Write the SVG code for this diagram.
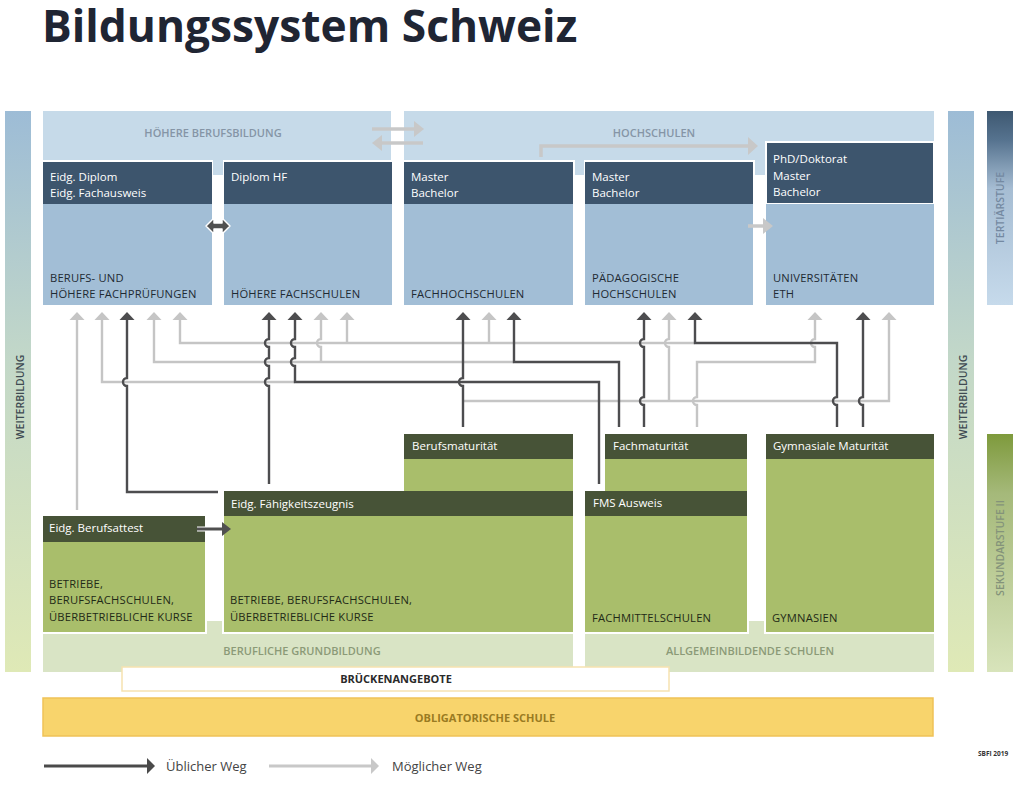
<svg xmlns="http://www.w3.org/2000/svg" width="1024" height="785" viewBox="0 0 1024 785">
<defs>
<style>
text{font-family:"Open Sans","Noto Sans","DejaVu Sans",sans-serif}
.title{font-size:44.3px;font-weight:700;fill:#1f2533}
.th{fill:#3d556d}.tb{fill:#a2bed6}.band{fill:#c6dae9}
.gh{fill:#475337}.gb{fill:#a9be6b}.gband{fill:#d9e4c5}
.ht{font-size:11.5px;fill:#ffffff}
.bt{font-size:11.2px;fill:#1e2a33;letter-spacing:0.2px}
.gbt{font-size:11.2px;fill:#1f2a17;letter-spacing:0.2px}
.bl{font-size:11px;font-weight:600;fill:#8595a6;text-anchor:middle}
.gl{font-size:11px;font-weight:600;fill:#8b9a77;text-anchor:middle}
.side{font-size:10.5px;font-weight:600;text-anchor:middle}
.cd{fill:none;stroke:#4d4d4f;stroke-width:2.4;marker-end:url(#ad)}
.cla{fill:none;stroke:#c5c5c5;stroke-width:2.4;marker-end:url(#al)}
.leg{font-size:13px;fill:#444}
</style>
<marker id="ad" markerUnits="userSpaceOnUse" markerWidth="16" markerHeight="16" viewBox="-1 -8 10 16" refX="0" refY="0" orient="auto"><path d="M8,0 L0,-7.5 L0,7.5 Z" fill="#4d4d4f"/></marker>
<marker id="al" markerUnits="userSpaceOnUse" markerWidth="16" markerHeight="16" viewBox="-1 -8 10 16" refX="0" refY="0" orient="auto"><path d="M8,0 L0,-7.5 L0,7.5 Z" fill="#c5c5c5"/></marker>
<linearGradient id="gw" x1="0" y1="0" x2="0" y2="1"><stop offset="0" stop-color="#9dbcd6"/><stop offset="0.45" stop-color="#c3d8c8"/><stop offset="1" stop-color="#dfe9b6"/></linearGradient>
<linearGradient id="gt" x1="0" y1="0" x2="0" y2="1"><stop offset="0" stop-color="#3e5871"/><stop offset="0.15" stop-color="#56738f"/><stop offset="0.4" stop-color="#a6bdd3"/><stop offset="1" stop-color="#c6daeb"/></linearGradient>
<linearGradient id="gs" x1="0" y1="0" x2="0" y2="1"><stop offset="0" stop-color="#7e9a3c"/><stop offset="0.25" stop-color="#a5b97a"/><stop offset="1" stop-color="#d8e4bb"/></linearGradient>
</defs>
<rect width="1024" height="785" fill="#ffffff"/>
<text class="title" x="42" y="42">Bildungssystem Schweiz</text>

<g id="side-bars">
<rect x="5" y="111" width="26" height="561" fill="url(#gw)"/>
<text class="side" transform="translate(24,397) rotate(-90)" fill="#3f4b52">WEITERBILDUNG</text>
<rect x="948" y="111" width="26" height="561" fill="url(#gw)"/>
<text class="side" transform="translate(967,397) rotate(-90)" fill="#3f4b52">WEITERBILDUNG</text>
<rect x="987" y="111" width="26" height="194" fill="url(#gt)"/>
<text class="side" transform="translate(1004,208) rotate(-90)" fill="#7489a1">TERTIÄRSTUFE</text>
<rect x="987" y="434" width="26" height="238" fill="url(#gs)"/>
<text class="side" transform="translate(1004,548) rotate(-90)" fill="#84937a">SEKUNDARSTUFE II</text>
</g>

<g id="band-hoehere-berufsbildung">
<rect class="band" x="43" y="111" width="348" height="49"/>
<rect class="band" x="213" y="158" width="10" height="17"/>
<text class="bl" x="213" y="137">HÖHERE BERUFSBILDUNG</text>
</g>
<g id="band-hochschulen">
<rect class="band" x="404" y="111" width="530" height="49"/>
<rect class="band" x="575" y="158" width="9" height="17"/>
<rect class="band" x="755" y="158" width="10" height="17"/>
<text class="bl" x="654" y="137">HOCHSCHULEN</text>
</g>

<g id="node-berufspruefungen">
<rect class="th" x="43" y="162" width="169" height="42"/>
<rect class="tb" x="43" y="204" width="169" height="101"/>
<text class="ht" x="50" y="181">Eidg. Diplom</text>
<text class="ht" x="50" y="197">Eidg. Fachausweis</text>
<text class="bt" x="50" y="282">BERUFS- UND</text>
<text class="bt" x="50" y="298">HÖHERE FACHPRÜFUNGEN</text>
</g>
<g id="node-hoehere-fachschulen">
<rect class="th" x="224" y="162" width="168" height="42"/>
<rect class="tb" x="224" y="204" width="168" height="101"/>
<text class="ht" x="231" y="181">Diplom HF</text>
<text class="bt" x="231" y="298">HÖHERE FACHSCHULEN</text>
</g>
<g id="node-fachhochschulen">
<rect class="th" x="404" y="162" width="169" height="42"/>
<rect class="tb" x="404" y="204" width="169" height="101"/>
<text class="ht" x="411" y="181">Master</text>
<text class="ht" x="411" y="197">Bachelor</text>
<text class="bt" x="411" y="298">FACHHOCHSCHULEN</text>
</g>
<g id="node-paedagogische-hochschulen">
<rect class="th" x="585" y="162" width="168" height="42"/>
<rect class="tb" x="585" y="204" width="168" height="101"/>
<text class="ht" x="592" y="181">Master</text>
<text class="ht" x="592" y="197">Bachelor</text>
<text class="bt" x="592" y="282">PÄDAGOGISCHE</text>
<text class="bt" x="592" y="298">HOCHSCHULEN</text>
</g>
<g id="node-universitaeten">
<rect class="th" x="766" y="142" width="168" height="62" stroke="#ffffff" stroke-width="2"/>
<rect class="tb" x="766" y="204" width="168" height="101"/>
<text class="ht" x="773" y="163">PhD/Doktorat</text>
<text class="ht" x="773" y="180">Master</text>
<text class="ht" x="773" y="196">Bachelor</text>
<text class="bt" x="773" y="282">UNIVERSITÄTEN</text>
<text class="bt" x="773" y="298">ETH</text>
</g>

<g id="band-berufliche-grundbildung">
<rect class="gband" x="43" y="634" width="530" height="38"/>
<rect class="gband" x="207" y="621" width="15" height="13"/>
<text class="gl" x="302" y="655">BERUFLICHE GRUNDBILDUNG</text>
</g>
<g id="band-allgemeinbildende-schulen">
<rect class="gband" x="585" y="634" width="349" height="38"/>
<rect class="gband" x="749" y="621" width="15" height="13"/>
<text class="gl" x="750" y="655">ALLGEMEINBILDENDE SCHULEN</text>
</g>

<g id="node-berufsmaturitaet">
<rect class="gh" x="404" y="434" width="169" height="25"/>
<rect class="gb" x="404" y="459" width="169" height="32"/>
<text class="ht" x="412" y="450">Berufsmaturität</text>
</g>
<g id="node-eidg-berufsattest">
<rect class="gh" x="43" y="516" width="162" height="26"/>
<rect class="gb" x="43" y="542" width="162" height="90"/>
<text class="ht" x="49" y="532">Eidg. Berufsattest</text>
<text class="gbt" x="49" y="588">BETRIEBE,</text>
<text class="gbt" x="49" y="604">BERUFSFACHSCHULEN,</text>
<text class="gbt" x="49" y="621">ÜBERBETRIEBLICHE KURSE</text>
</g>
<g id="node-eidg-faehigkeitszeugnis">
<rect class="gh" x="224" y="491" width="349" height="25"/>
<rect class="gb" x="224" y="516" width="349" height="116"/>
<text class="ht" x="231" y="508">Eidg. Fähigkeitszeugnis</text>
<text class="gbt" x="230" y="604">BETRIEBE, BERUFSFACHSCHULEN,</text>
<text class="gbt" x="230" y="621">ÜBERBETRIEBLICHE KURSE</text>
</g>
<g id="node-fachmaturitaet">
<rect class="gh" x="605" y="434" width="142" height="25"/>
<rect class="gb" x="605" y="459" width="142" height="32"/>
<text class="ht" x="613" y="450">Fachmaturität</text>
</g>
<g id="node-fms-ausweis">
<rect class="gh" x="585" y="491" width="162" height="25"/>
<rect class="gb" x="585" y="516" width="162" height="116"/>
<text class="ht" x="593" y="507">FMS Ausweis</text>
<text class="gbt" x="592" y="622">FACHMITTELSCHULEN</text>
</g>
<g id="node-gymnasiale-maturitaet">
<rect class="gh" x="766" y="434" width="168" height="25"/>
<rect class="gb" x="766" y="459" width="168" height="173"/>
<text class="ht" x="773" y="450">Gymnasiale Maturität</text>
<text class="gbt" x="772" y="622">GYMNASIEN</text>
</g>

<g id="node-brueckenangebote">
<rect x="122" y="667" width="547" height="24" fill="#ffffff" stroke="#f6e2b0" stroke-width="1.5"/>
<text x="396" y="683" font-size="11px" font-weight="700" fill="#2a2a2a" text-anchor="middle">BRÜCKENANGEBOTE</text>
</g>
<g id="node-obligatorische-schule">
<rect x="43" y="698" width="890" height="38" fill="#f8d46c" stroke="#efc257" stroke-width="1.5"/>
<text x="485" y="722" font-size="11px" font-weight="700" fill="#9a7b22" text-anchor="middle">OBLIGATORISCHE SCHULE</text>
</g>

<g id="connectors">
<path d="M372,129 H414" fill="none" stroke="#c8c8c8" stroke-width="3.5"/>
<path d="M414,121 L424,129 L414,137 Z" fill="#c8c8c8"/>
<path d="M423,143 H382" fill="none" stroke="#c8c8c8" stroke-width="3.5"/>
<path d="M382,135 L372,143 L382,151 Z" fill="#c8c8c8"/>
<path d="M541,157 V146 H748" fill="none" stroke="#c8c8c8" stroke-width="3.5"/>
<path d="M748,137 L758,146 L748,155 Z" fill="#c8c8c8"/>
<path d="M748,226 H763" fill="none" stroke="#c8c8c8" stroke-width="3.5"/>
<path d="M763,218 L773,226 L763,234 Z" fill="#c8c8c8"/>
<path d="M206,226 L214,218 L214,223 L222,223 L222,218 L230,226 L222,234 L222,229 L214,229 L214,234 Z" fill="#505050" stroke="#ffffff" stroke-width="1.5" stroke-linejoin="round"/>
<path d="M197,529 H222" fill="none" stroke="#ffffff" stroke-width="5"/>
<path d="M197,529 H222" fill="none" stroke="#505050" stroke-width="3"/>
<path d="M222,522 L231,529 L222,536 Z" fill="#505050"/>

<path class="cla" d="M77,510 V320"/>
<path class="cla" d="M295,382 H102 V320"/>
<path class="cla" d="M514,362 H154 V320"/>
<path class="cla" d="M321,362 V347 A4,4 0 0 1 321,339 V320"/>
<path class="cla" d="M695,343 H180 V320"/>
<path class="cla" d="M347,343 V320"/>
<path class="cla" d="M489,343 V320"/>
<path class="cla" d="M463,401 H889 V320"/>
<path class="cla" d="M669,401 V347 A4,4 0 0 1 669,339 V320"/>
<path class="cla" d="M697,427 V405 A4,4 0 0 1 697,397 V362 H815 V347 A4,4 0 0 1 815,339 V320"/>

<path class="cd" d="M218,492 H127 V386 A4,4 0 0 1 127,378 V320"/>
<path class="cd" d="M269,484 V386 A4,4 0 0 1 269,378 V366 A4,4 0 0 1 269,358 V347 A4,4 0 0 1 269,339 V320"/>
<path class="cd" d="M599,484 V382 H295 V366 A4,4 0 0 1 295,358 V347 A4,4 0 0 1 295,339 V320"/>
<path class="cd" d="M463,427 V386 A4,4 0 0 1 463,378 V320"/>
<path class="cd" d="M619,427 V362 H514 V320"/>
<path class="cd" d="M644,427 V405 A4,4 0 0 1 644,397 V347 A4,4 0 0 1 644,339 V320"/>
<path class="cd" d="M837,427 V405 A4,4 0 0 1 837,397 V343 H695 V320"/>
<path class="cd" d="M863,427 V405 A4,4 0 0 1 863,397 V320"/>
</g>

<g id="legend">
<path d="M44,766 H147" fill="none" stroke="#4a4a4a" stroke-width="3"/>
<path d="M147,758 L155,766 L147,774 Z" fill="#4a4a4a"/>
<text class="leg" x="166" y="771">Üblicher Weg</text>
<path d="M269,766 H371" fill="none" stroke="#c8c8c8" stroke-width="3"/>
<path d="M371,758 L379,766 L371,774 Z" fill="#c8c8c8"/>
<text class="leg" x="392" y="771">Möglicher Weg</text>
<text x="978" y="756" font-size="6.5px" font-weight="700" fill="#333">SBFI 2019</text>
</g>
</svg>
